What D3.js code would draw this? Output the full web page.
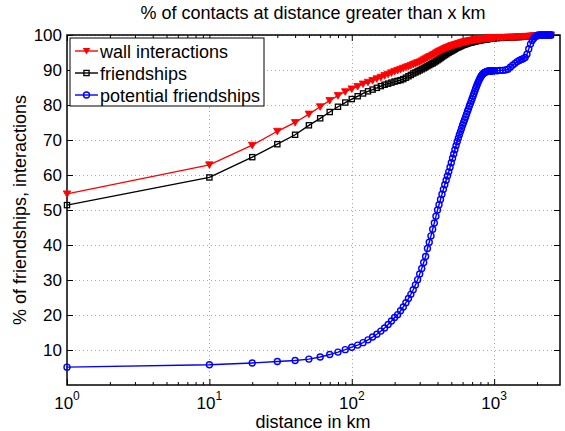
<!DOCTYPE html>
<html>
<head>
<meta charset="utf-8">
<script src="https://cdn.jsdelivr.net/npm/d3@7"></script>
<style>
  html, body { margin: 0; padding: 0; background: #fff; }
  svg { display: block; font-family: "Liberation Sans", Arial, Helvetica, sans-serif; }
</style>
</head>
<body>
<svg id="chart" width="565" height="431"></svg>
<script>
// Distances (km) at which the cumulative shares were evaluated
const distances = [1,
  10,20,30,40,50,60,70,80,90,100,
  110,120,130,140,150,160,170,180,190,200,
  210,220,230,240,250,260,270,280,290,300,
  310,320,330,340,350,360,370,380,390,400,
  410,420,430,440,450,460,470,480,490,500,
  510,520,530,540,550,560,570,580,590,600,
  610,620,630,640,650,660,670,680,690,700,
  710,720,730,740,750,760,770,780,790,800,
  810,820,830,840,850,860,870,880,890,900,
  910,920,930,940,950,960,970,980,990,1000,
  1050,1100,1150,1200,1250,1300,1350,1400,1450,1500,
  1550,1600,1650,1700,1750,1800,1850,1900,1950,2000,
  2050,2100,2150,2200,2250,2300,2350,2400,2450,2500];

// % of wall interactions between users farther apart than x km
const wallInteractions = [54.6,
  62.9,68.5,72.5,75.0,77.4,79.5,81.3,82.7,83.8,84.6,
  85.3,86.0,86.5,87.0,87.5,87.9,88.4,88.8,89.2,89.6,
  89.9,90.2,90.5,90.8,91.0,91.3,91.6,91.8,92.1,92.3,
  92.6,92.9,93.2,93.5,93.8,94.0,94.3,94.5,94.8,95.1,
  95.3,95.5,95.7,95.9,96.1,96.3,96.4,96.6,96.7,96.9,
  97.0,97.1,97.2,97.3,97.4,97.5,97.6,97.7,97.8,97.9,
  98.0,98.0,98.1,98.2,98.2,98.3,98.3,98.4,98.4,98.5,
  98.5,98.6,98.6,98.7,98.7,98.7,98.8,98.8,98.8,98.9,
  98.9,98.9,98.9,99.0,99.0,99.0,99.0,99.0,99.1,99.1,
  99.1,99.1,99.1,99.2,99.2,99.2,99.2,99.2,99.2,99.2,
  99.3,99.3,99.3,99.3,99.4,99.4,99.4,99.4,99.5,99.5,
  99.5,99.5,99.6,99.6,99.6,99.7,99.7,99.7,99.8,99.8,
  99.8,99.9,99.9,99.9,99.9,100,100,100,100,100];

// % of friendships between users farther apart than x km
const friendships = [51.4,
  59.3,65.1,68.8,71.5,74.2,76.2,78.0,79.5,80.7,81.7,
  82.5,83.3,83.9,84.4,84.9,85.4,85.8,86.1,86.4,86.7,
  86.9,87.1,87.4,87.8,88.2,88.6,89.0,89.3,89.6,89.9,
  90.2,90.5,90.8,91.1,91.4,91.7,91.9,92.2,92.5,92.8,
  93.1,93.4,93.7,94.0,94.3,94.5,94.8,95.0,95.2,95.4,
  95.6,95.8,96.0,96.2,96.4,96.5,96.7,96.8,97.0,97.1,
  97.2,97.3,97.4,97.5,97.6,97.7,97.8,97.8,97.9,98.0,
  98.0,98.1,98.2,98.2,98.3,98.3,98.4,98.4,98.5,98.5,
  98.6,98.6,98.6,98.7,98.7,98.7,98.8,98.8,98.8,98.9,
  98.9,98.9,98.9,99.0,99.0,99.0,99.0,99.0,99.1,99.1,
  99.1,99.2,99.2,99.2,99.3,99.3,99.3,99.4,99.4,99.4,
  99.5,99.5,99.5,99.6,99.6,99.6,99.7,99.7,99.7,99.8,
  99.8,99.8,99.9,99.9,99.9,99.9,100,100,100,100];

// % of potential friendships (random pairs) farther apart than x km
const potentialFriendships = [5.1,
  5.8,6.3,6.7,7.0,7.4,8.0,8.7,9.4,10.1,10.8,
  11.4,12.1,12.9,13.7,14.5,15.4,16.3,17.3,18.3,19.3,
  20.1,21.2,22.3,23.5,24.7,25.9,27.2,28.6,30.1,31.7,
  33.3,35.0,36.7,39.0,40.8,42.6,44.5,46.3,48.2,50.0,
  51.5,53.0,54.5,55.9,57.2,58.5,59.7,60.9,62.2,63.5,
  64.8,66.0,67.2,68.4,69.5,70.5,71.5,72.4,73.3,74.2,
  75.0,75.8,76.6,77.4,78.2,78.9,79.7,80.4,81.1,81.8,
  82.5,83.2,83.9,84.6,85.2,85.8,86.4,86.9,87.4,87.8,
  88.2,88.5,88.8,89.0,89.2,89.3,89.4,89.5,89.6,89.6,
  89.7,89.7,89.7,89.7,89.8,89.8,89.8,89.8,89.8,89.8,
  89.8,89.9,89.9,90.0,90.2,90.8,91.4,91.9,92.4,92.7,
  93.0,93.2,93.6,94.5,96.0,97.4,98.4,99.1,99.6,99.9,
  100,100,100,100,100,100,100,100,100,100];

const seriesNames = ["wall interactions", "friendships", "potential friendships"];
const yTicks = [10, 20, 30, 40, 50, 60, 70, 80, 90, 100];
const xDecades = [1, 10, 100, 1000];

const svg = d3.select("#chart");
const plotL = 67, plotR = 560, plotT = 35, plotB = 385;

const x = d3.scaleLog().domain([1, 2900]).range([plotL, plotR]);
const y = d3.scaleLinear().domain([0, 100]).range([plotB, plotT]);

// dotted grid
const grid = svg.append("g");
grid.selectAll("line.gy").data(yTicks).join("line")
  .attr("x1", plotL).attr("x2", plotR)
  .attr("y1", d => y(d) + 0.5).attr("y2", d => y(d) + 0.5)
  .attr("stroke", "#a8a8a8").attr("stroke-width", 1).attr("stroke-dasharray", "1,3");
grid.selectAll("line.gx").data(xDecades.filter(d => d > 1)).join("line")
  .attr("x1", d => Math.round(x(d)) + 0.5).attr("x2", d => Math.round(x(d)) + 0.5)
  .attr("y1", plotT).attr("y2", plotB)
  .attr("stroke", "#a8a8a8").attr("stroke-width", 1).attr("stroke-dasharray", "1,3");

// minor ticks of the log axis (2..9 in each decade)
const xMinor = [];
for (const dec of xDecades) for (let k = 2; k <= 9; k++) { if (dec * k <= 2900) xMinor.push(dec * k); }

// axes with inward ticks on all four sides
svg.append("g").attr("transform", `translate(0,${plotB})`)
  .call(d3.axisBottom(x).tickValues(xDecades).tickSize(-6).tickFormat(() => ""));
svg.append("g").attr("transform", `translate(0,${plotT})`)
  .call(d3.axisTop(x).tickValues(xDecades).tickSize(-6).tickFormat(() => ""));
svg.append("g").attr("transform", `translate(0,${plotB})`)
  .call(d3.axisBottom(x).tickValues(xMinor).tickSize(-3).tickFormat(() => ""));
svg.append("g").attr("transform", `translate(0,${plotT})`)
  .call(d3.axisTop(x).tickValues(xMinor).tickSize(-3).tickFormat(() => ""));

const gL = svg.append("g").attr("transform", `translate(${plotL},0)`)
  .call(d3.axisLeft(y).tickValues(yTicks).tickSize(-6).tickPadding(5).tickFormat(d3.format("d")));
svg.append("g").attr("transform", `translate(${plotR},0)`)
  .call(d3.axisRight(y).tickValues(yTicks).tickSize(-6).tickFormat(() => ""));
gL.selectAll("text").attr("font-size", 17).attr("fill", "#000")
  .attr("font-family", "Liberation Sans, Arial, sans-serif");

svg.selectAll(".domain").remove();
svg.selectAll(".tick line").attr("stroke", "#000");

// frame
svg.append("rect").attr("x", plotL).attr("y", plotT)
  .attr("width", plotR - plotL).attr("height", plotB - plotT)
  .attr("fill", "none").attr("stroke", "#000").attr("stroke-width", 1.5);

// x tick labels: 10 with a superscript exponent
const xl = svg.append("g");
xDecades.forEach((d, i) => {
  const t = xl.append("text").attr("x", x(d)).attr("y", 409)
    .attr("text-anchor", "middle").attr("font-size", 17);
  t.append("tspan").text("10");
  t.append("tspan").attr("dy", -9).attr("font-size", 12).text(String(i));
});

// series
svg.append("clipPath").attr("id", "plotclip").append("rect")
  .attr("x", plotL - 5).attr("y", plotT - 5).attr("width", plotR - plotL + 10).attr("height", plotB - plotT + 10);

const line = vals => d3.line().x((d, i) => x(distances[i])).y(d => y(d))(vals);
const plot = svg.append("g").attr("clip-path", "url(#plotclip)");

const tri = (cx, cy) => `M${cx - 3.8},${cy - 3}L${cx + 3.8},${cy - 3}L${cx},${cy + 3.6}Z`;

function drawSeries(vals, color, kind) {
  const g = plot.append("g");
  g.append("path").attr("d", line(vals)).attr("fill", "none")
    .attr("stroke", color).attr("stroke-width", 1.4);
  const pts = vals.map((v, i) => [x(distances[i]), y(v)]);
  if (kind === "tri") {
    g.selectAll("path.m").data(pts).join("path").attr("class", "m")
      .attr("d", p => tri(p[0], p[1])).attr("fill", color).attr("stroke", color).attr("stroke-width", 0.8);
  } else if (kind === "sq") {
    g.selectAll("rect.m").data(pts).join("rect").attr("class", "m")
      .attr("x", p => p[0] - 2.6).attr("y", p => p[1] - 2.6).attr("width", 5.2).attr("height", 5.2)
      .attr("fill", "none").attr("stroke", color).attr("stroke-width", 1.3);
  } else {
    g.selectAll("circle.m").data(pts).join("circle").attr("class", "m")
      .attr("cx", p => p[0]).attr("cy", p => p[1]).attr("r", 3)
      .attr("fill", "none").attr("stroke", color).attr("stroke-width", 1.4);
  }
}
drawSeries(friendships, "#000000", "sq");
drawSeries(wallInteractions, "#ff0000", "tri");
drawSeries(potentialFriendships, "#0000ff", "circ");

// legend
const lg = svg.append("g");
lg.append("rect").attr("x", 70).attr("y", 38).attr("width", 194).attr("height", 68)
  .attr("fill", "#fff").attr("stroke", "#000").attr("stroke-width", 1);
const legendItems = [
  { name: seriesNames[0], color: "#ff0000", kind: "tri" },
  { name: seriesNames[1], color: "#000000", kind: "sq" },
  { name: seriesNames[2], color: "#0000ff", kind: "circ" }
];
legendItems.forEach((it, i) => {
  const cy = 51 + i * 22;
  lg.append("line").attr("x1", 75).attr("x2", 98).attr("y1", cy).attr("y2", cy)
    .attr("stroke", it.color).attr("stroke-width", 1.4);
  if (it.kind === "tri") lg.append("path").attr("d", tri(86.5, cy)).attr("fill", it.color);
  else if (it.kind === "sq") lg.append("rect").attr("x", 86.5 - 2.6).attr("y", cy - 2.6)
    .attr("width", 5.2).attr("height", 5.2).attr("fill", "none").attr("stroke", it.color).attr("stroke-width", 1.3);
  else lg.append("circle").attr("cx", 86.5).attr("cy", cy).attr("r", 3)
    .attr("fill", "none").attr("stroke", it.color).attr("stroke-width", 1.4);
  lg.append("text").attr("x", 100).attr("y", cy + 6.5).attr("font-size", 18).text(it.name);
});

// titles
svg.append("text").attr("x", 313).attr("y", 19).attr("text-anchor", "middle")
  .attr("font-size", 18).text("% of contacts at distance greater than x km");
svg.append("text").attr("x", 313).attr("y", 428).attr("text-anchor", "middle")
  .attr("font-size", 18).text("distance in km");
svg.append("text").attr("transform", `translate(26,${(plotT + plotB) / 2}) rotate(-90)`)
  .attr("text-anchor", "middle").attr("font-size", 18).text("% of friendships, interactions");
</script>
</body>
</html>
